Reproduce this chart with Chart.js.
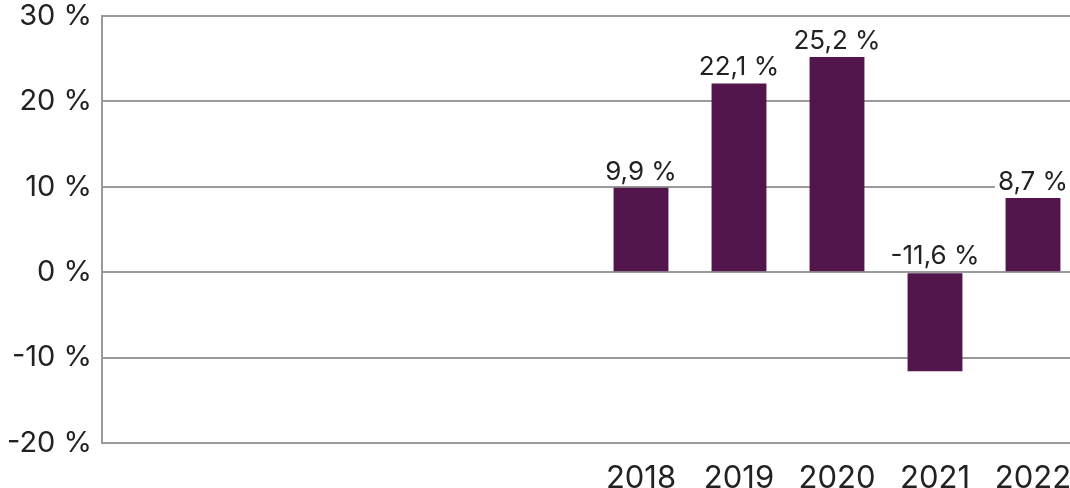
<!DOCTYPE html>
<html>
<head>
<meta charset="utf-8">
<script src="https://cdn.jsdelivr.net/npm/chart.js@4/dist/chart.umd.min.js"></script>
<style>
  html, body { margin: 0; padding: 0; background: #fff; overflow: hidden; }
  #wrap { width: 1082px; height: 488px; }
</style>
</head>
<body>
<div id="wrap"><canvas id="myChart"></canvas></div>
<script>
const years = ['', '', '', '', '', '2018', '2019', '2020', '2021', '2022']
const growth = [null, null, null, null, null, 9.9, 22.1, 25.2, -11.6, 8.7]
const yTicks = [-20, -10, 0, 10, 20, 30]

const fmt = (v) => String(v).replace('.', ',') + ' %'

// draws the value above each bar, on a white box
const valueLabels = {
  id: 'valueLabels',
  afterDatasetsDraw(chart) {
    const ctx = chart.ctx
    const meta = chart.getDatasetMeta(0)
    const zero = chart.scales.y.getPixelForValue(0)
    ctx.save()
    ctx.font = '26px Inter'
    ctx.textAlign = 'center'
    ctx.textBaseline = 'alphabetic'
    meta.data.forEach((bar, i) => {
      const v = growth[i]
      if (v === null) return
      const text = fmt(v)
      const y = Math.min(bar.y, zero) - 8
      const w = ctx.measureText(text).width
      ctx.fillStyle = '#fff'
      ctx.fillRect(bar.x - w / 2 - 3, y - 21, w + 6, 26)
      ctx.fillStyle = '#222'
      ctx.fillText(text, bar.x, y)
    })
    ctx.restore()
  },
}

const ctx = document.getElementById('myChart').getContext('2d')
const chart = new Chart(ctx, {
  type: 'bar',
  data: {
    labels: years,
    datasets: [
      {
        data: growth,
        backgroundColor: '#52154c',
        categoryPercentage: 1,
        barPercentage: 0.56,
      },
    ],
  },
  options: {
    responsive: true,
    maintainAspectRatio: false,
    animation: false,
    layout: { padding: { top: 16, right: 0, left: 0, bottom: 0 } },
    plugins: { legend: { display: false }, tooltip: { enabled: false } },
    scales: {
      x: {
        grid: { display: false },
        border: { display: true, color: '#9a9a9a', width: 2 },
        ticks: { color: '#222', font: { family: 'Inter', size: 31 }, padding: 9, maxRotation: 0, autoSkip: false },
        afterFit: (s) => { s.height = 45; s.paddingLeft = 0; s.paddingRight = 0 },
      },
      y: {
        min: -20,
        max: 30,
        afterBuildTicks: (s) => { s.ticks = yTicks.map((v) => ({ value: v })) },
        grid: { color: '#9a9a9a', lineWidth: 2, drawTicks: false },
        border: { display: true, color: '#9a9a9a', width: 2 },
        ticks: { color: '#222', font: { family: 'Inter', size: 29 }, padding: 10, callback: (v) => v + ' %' },
        afterFit: (s) => { s.width = 102; s.paddingTop = 0; s.paddingBottom = 0 },
      },
    },
  },
  plugins: [valueLabels],
})
</script>
</body>
</html>
